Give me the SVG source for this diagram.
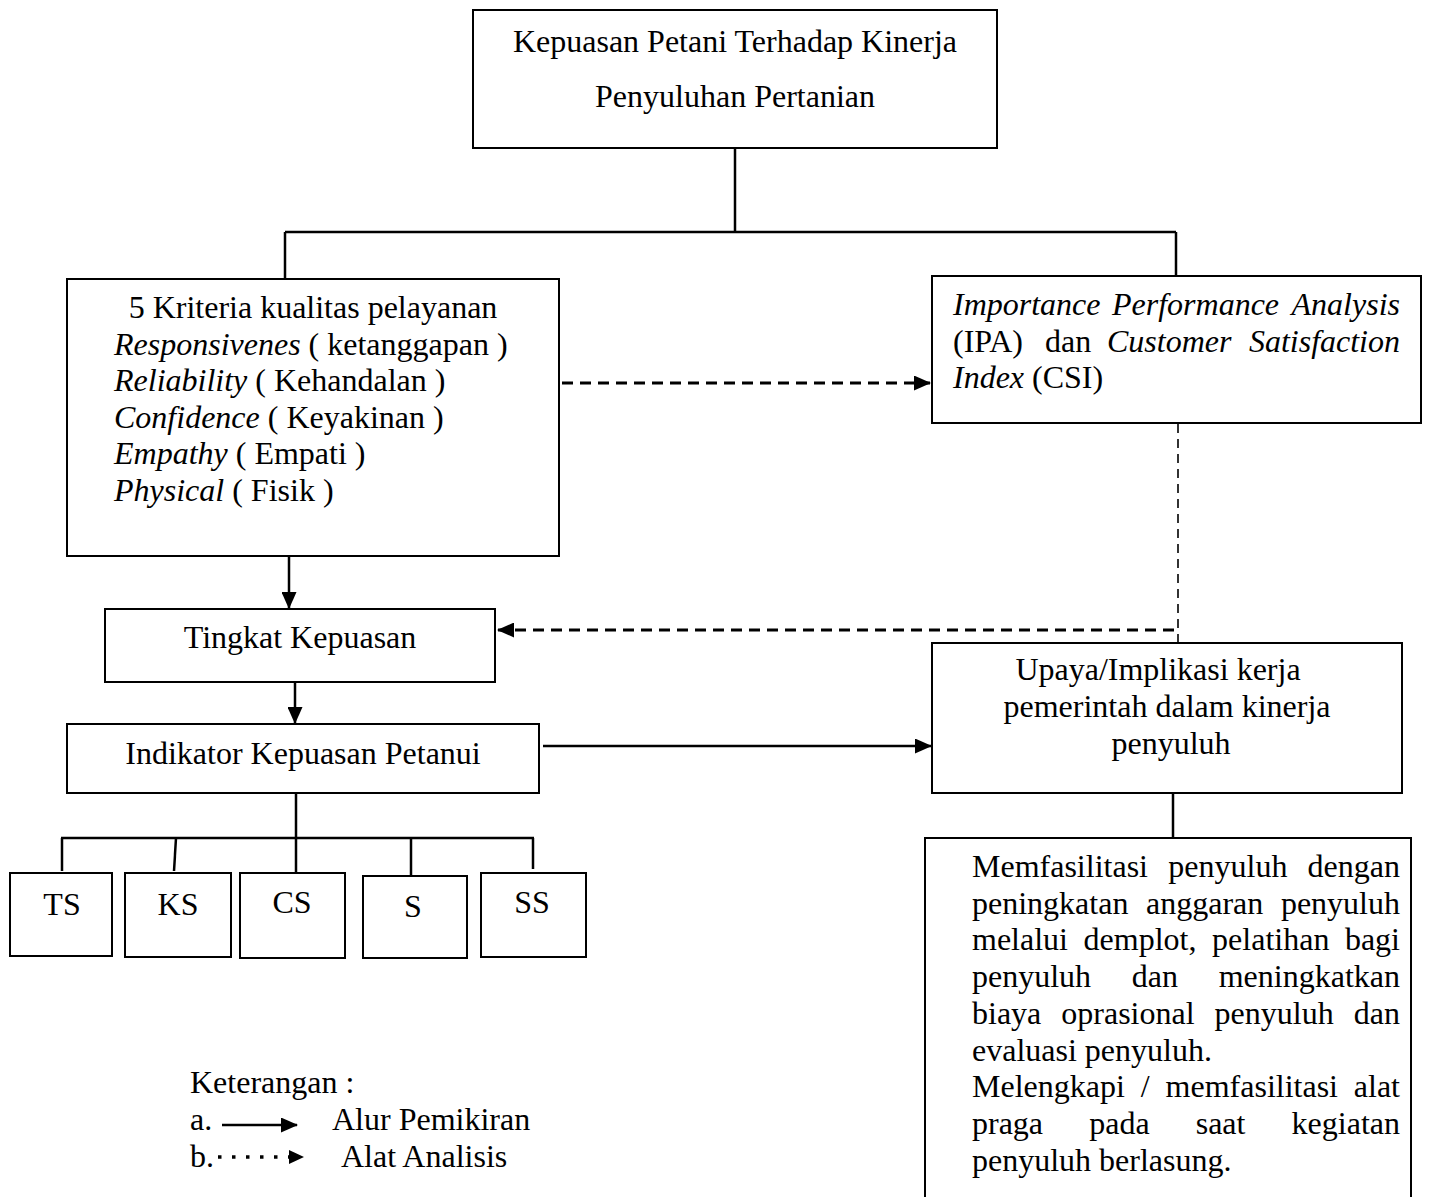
<svg xmlns="http://www.w3.org/2000/svg" width="1429" height="1197" viewBox="0 0 1429 1197">
<style>
text{font-family:"Liberation Serif","Times New Roman",serif;font-size:32px;fill:#000}
.c{text-anchor:middle}
.e{text-anchor:end}
.i{font-style:italic}
.box{fill:#fff;stroke:#000;stroke-width:2}
.ln{stroke:#000;stroke-width:2.5;fill:none}
.dsh{stroke:#000;stroke-width:3;fill:none;stroke-dasharray:11 7}
.dth{stroke:#000;stroke-width:1.6;fill:none;stroke-dasharray:9 6}
</style>
<defs>
<marker id="ah" markerWidth="17" markerHeight="15" refX="16" refY="7.5" orient="auto" markerUnits="userSpaceOnUse"><path d="M0,0 L17,7.5 L0,15 z" fill="#000"/></marker>
</defs>
<rect width="1429" height="1197" fill="#fff"/>
<g id="connectors">
<line class="ln" x1="735" y1="148" x2="735" y2="232"/>
<line class="ln" x1="285" y1="232" x2="1176" y2="232"/>
<line class="ln" x1="285" y1="232" x2="285" y2="279"/>
<line class="ln" x1="1176" y1="232" x2="1176" y2="276"/>
<line class="dsh" x1="562" y1="383" x2="930" y2="383" marker-end="url(#ah)"/>
<line class="dth" x1="1178" y1="424" x2="1178" y2="643"/>
<line class="dsh" x1="1174" y1="630" x2="498" y2="630" marker-end="url(#ah)"/>
<line class="ln" x1="289" y1="556" x2="289" y2="608" marker-end="url(#ah)"/>
<line class="ln" x1="295" y1="682" x2="295" y2="723" marker-end="url(#ah)"/>
<line class="ln" x1="543" y1="746" x2="931" y2="746" marker-end="url(#ah)"/>
<line class="ln" x1="1173" y1="793" x2="1173" y2="838"/>
<line class="ln" x1="296" y1="794" x2="296" y2="838"/>
<line class="ln" x1="61" y1="838" x2="534" y2="838"/>
<line class="ln" x1="62" y1="838" x2="62" y2="871"/>
<line class="ln" x1="176" y1="838" x2="174" y2="871"/>
<line class="ln" x1="296" y1="838" x2="296" y2="873"/>
<line class="ln" x1="411" y1="838" x2="411" y2="876"/>
<line class="ln" x1="533" y1="838" x2="533" y2="869"/>
</g>
<g id="n-top">
<rect class="box" x="473" y="10" width="524" height="138"/>
<text class="c" x="735" y="52">Kepuasan Petani Terhadap Kinerja</text>
<text class="c" x="735" y="107">Penyuluhan Pertanian</text>
</g>
<g id="n-kriteria">
<rect class="box" x="67" y="279" width="492" height="277"/>
<text class="c" x="313" y="318">5 Kriteria kualitas pelayanan</text>
<text x="114" y="354.6"><tspan class="i">Responsivenes</tspan> ( ketanggapan )</text>
<text x="114" y="391.2"><tspan class="i">Reliability</tspan> ( Kehandalan )</text>
<text x="114" y="427.8"><tspan class="i">Confidence</tspan> ( Keyakinan )</text>
<text x="114" y="464.4"><tspan class="i">Empathy</tspan> ( Empati )</text>
<text x="114" y="501"><tspan class="i">Physical</tspan> ( Fisik )</text>
</g>
<g id="n-ipa">
<rect class="box" x="932" y="276" width="489" height="147"/>
<text class="i" x="953" y="315">Importance</text>
<text class="i" x="1112" y="315">Performance</text>
<text class="i e" x="1400" y="315">Analysis</text>
<text x="953" y="352">(IPA)</text>
<text x="1045" y="352">dan</text>
<text class="i" x="1107" y="352">Customer</text>
<text class="i e" x="1400" y="352">Satisfaction</text>
<text x="953" y="388"><tspan class="i">Index</tspan> (CSI)</text>
</g>
<g id="n-tingkat">
<rect class="box" x="105" y="609" width="390" height="73"/>
<text class="c" x="300" y="648">Tingkat Kepuasan</text>
</g>
<g id="n-indikator">
<rect class="box" x="67" y="724" width="472" height="69"/>
<text class="c" x="303" y="764">Indikator Kepuasan Petanui</text>
</g>
<g id="n-upaya">
<rect class="box" x="932" y="643" width="470" height="150"/>
<text class="c" x="1158" y="680">Upaya/Implikasi kerja</text>
<text class="c" x="1167" y="717">pemerintah dalam kinerja</text>
<text class="c" x="1171" y="754">penyuluh</text>
</g>
<g id="n-ts"><rect class="box" x="10" y="873" width="102" height="83"/><text class="c" x="62" y="915">TS</text></g>
<g id="n-ks"><rect class="box" x="125" y="873" width="106" height="84"/><text class="c" x="178" y="915">KS</text></g>
<g id="n-cs"><rect class="box" x="240" y="873" width="105" height="85"/><text class="c" x="292" y="913">CS</text></g>
<g id="n-s"><rect class="box" x="363" y="876" width="104" height="82"/><text class="c" x="413" y="917">S</text></g>
<g id="n-ss"><rect class="box" x="481" y="873" width="105" height="84"/><text class="c" x="532" y="913">SS</text></g>
<g id="n-memfasilitasi">
<rect class="box" x="925" y="838" width="486" height="380"/>
<text x="972" y="877">Memfasilitasi</text><text x="1168.3" y="877">penyuluh</text><text class="e" x="1400" y="877">dengan</text>
<text x="972" y="913.7">peningkatan</text><text x="1146" y="913.7">anggaran</text><text class="e" x="1400" y="913.7">penyuluh</text>
<text x="972" y="950.4">melalui</text><text x="1083.6" y="950.4">demplot,</text><text x="1212.1" y="950.4">pelatihan</text><text class="e" x="1400" y="950.4">bagi</text>
<text x="972" y="987.1">penyuluh</text><text x="1131.8" y="987.1">dan</text><text class="e" x="1400" y="987.1">meningkatkan</text>
<text x="972" y="1023.8">biaya</text><text x="1061.3" y="1023.8">oprasional</text><text x="1214.6" y="1023.8">penyuluh</text><text class="e" x="1400" y="1023.8">dan</text>
<text x="972" y="1060.5">evaluasi penyuluh.</text>
<text x="972" y="1097.2">Melengkapi</text><text x="1140.8" y="1097.2">/</text><text x="1165.6" y="1097.2">memfasilitasi</text><text class="e" x="1400" y="1097.2">alat</text>
<text x="972" y="1133.9">praga</text><text x="1089.2" y="1133.9">pada</text><text x="1195.7" y="1133.9">saat</text><text class="e" x="1400" y="1133.9">kegiatan</text>
<text x="972" y="1170.6">penyuluh berlasung.</text>
</g>
<g id="legend">
<text x="190" y="1093">Keterangan :</text>
<text x="190" y="1130">a.</text>
<line class="ln" x1="222" y1="1125" x2="297" y2="1125" marker-end="url(#ah)"/>
<text x="332" y="1130">Alur Pemikiran</text>
<text x="190" y="1167">b.</text>
<line x1="218" y1="1157" x2="290" y2="1157" stroke="#000" stroke-width="3.5" stroke-dasharray="3.5 10.5"/>
<path d="M289,1150 L304,1157 L289,1164 z" fill="#000"/>
<text x="341" y="1167">Alat Analisis</text>
</g>
</svg>
